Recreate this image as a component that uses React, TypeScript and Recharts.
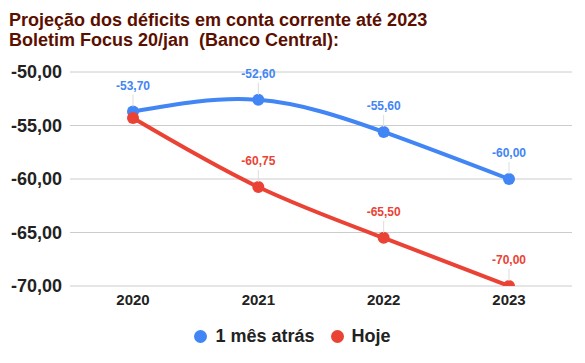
import React from 'react';
import { LineChart, Line, XAxis, YAxis, CartesianGrid } from 'recharts';

const years = ['2020', '2021', '2022', '2023'];
const umMesAtras = [-53.7, -52.6, -55.6, -60.0];
const hoje = [-54.3, -60.75, -65.5, -70.0];
const yTicks = [-50, -55, -60, -65, -70];
const hiddenLabels: Record<string, number[]> = { hoje: [0] };

const BLUE = '#4285f4';
const RED = '#ea4335';
const FONT = '"Liberation Sans", Arial, sans-serif';

const data = years.map((y, i) => ({ year: y, umMesAtras: umMesAtras[i], hoje: hoje[i] }));

const fmt = (v: number) => v.toFixed(2).replace('.', ',');

const makeLabel = (color: string, key: string) => (props: any) => {
  const { x, y, value, index } = props;
  if ((hiddenLabels[key] || []).includes(index)) return null;
  return (
    <g>
      <line x1={x} x2={x} y1={y - 17} y2={y - 5} stroke="#dddddd" strokeWidth={1} />
      <text x={x} y={y - 22} textAnchor="middle" fill={color} fontSize={12} fontWeight="bold" fontFamily={FONT}>
        {fmt(value)}
      </text>
    </g>
  );
};

const legendItems = [
  { name: '1 mês atrás', color: BLUE },
  { name: 'Hoje', color: RED },
];

export default function App() {
  return (
    <div style={{ position: 'fixed', top: 0, left: 0, width: 585, height: 363, background: '#fff', fontFamily: FONT }}>
      <div style={{ position: 'absolute', left: 9, top: 10, color: '#5b0f00', fontSize: 18, fontWeight: 'bold', lineHeight: '20px' }}>
        <div>Projeção dos déficits em conta corrente até 2023</div>
        <div>Boletim Focus 20/jan&nbsp; (Banco Central):</div>
      </div>
      <LineChart width={585} height={363} data={data} margin={{ top: 72, right: 13, left: 0, bottom: 47 }}>
        <CartesianGrid vertical={false} stroke="#cccccc" />
        <XAxis
          dataKey="year"
          axisLine={false}
          tickLine={false}
          height={30}
          padding={{ left: 63, right: 63 }}
          tick={{ fill: '#222', fontSize: 15, fontWeight: 'bold', fontFamily: FONT }}
        />
        <YAxis
          domain={[-70, -50]}
          ticks={yTicks}
          allowDataOverflow
          axisLine={false}
          tickLine={false}
          width={70}
          tickFormatter={fmt}
          tick={{ fill: '#222', fontSize: 18, fontWeight: 'bold', fontFamily: FONT }}
        />
        <Line
          type="natural"
          dataKey="umMesAtras"
          stroke={BLUE}
          strokeWidth={4}
          dot={{ r: 6, fill: BLUE, stroke: BLUE, strokeWidth: 0 }}
          label={makeLabel(BLUE, 'umMesAtras')}
          isAnimationActive={false}
        />
        <Line
          type="natural"
          dataKey="hoje"
          stroke={RED}
          strokeWidth={4}
          dot={{ r: 6, fill: RED, stroke: RED, strokeWidth: 0 }}
          label={makeLabel(RED, 'hoje')}
          isAnimationActive={false}
        />
      </LineChart>
      <div style={{ position: 'absolute', top: 326, left: 0, width: 585, display: 'flex', justifyContent: 'center', gap: 16 }}>
        {legendItems.map((it) => (
          <div key={it.name} style={{ display: 'flex', alignItems: 'center', fontSize: 18, fontWeight: 'bold', color: '#222' }}>
            <span style={{ display: 'inline-block', width: 13, height: 13, borderRadius: '50%', background: it.color, marginRight: 8 }} />
            {it.name}
          </div>
        ))}
      </div>
    </div>
  );
}
